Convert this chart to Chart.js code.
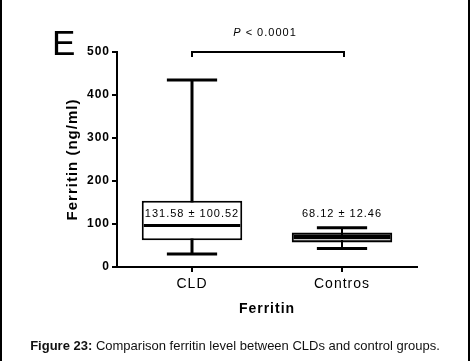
<!DOCTYPE html>
<html lang="en">
<head>
<meta charset="UTF-8">
<title>Ferritin: CLD vs controls</title>
<script src="https://cdn.jsdelivr.net/npm/chart.js"></script>
<style>
  html, body { margin: 0; padding: 0; background: #fff; }
  #wrap { position: relative; width: 473px; height: 361px; }
  #frame { position: absolute; left: 0; top: 0; width: 466px; height: 361px; border-left: 2px solid #000; border-right: 2px solid #000; pointer-events: none; }
  #caption { position: absolute; left: 0; top: 338px; width: 470px; text-align: center; font: 13px "Liberation Sans", Arial, sans-serif; color: #111; }
</style>
</head>
<body>
<div id="wrap">
  <canvas id="ferritinChart"></canvas>
  <div id="frame"></div>
  <div id="caption"><b>Figure 23:</b> Comparison ferritin level between CLDs and control groups.</div>
</div>

<script>
  // values (ng/ml)
  const categories = ['CLD', 'Contros'];
  const minVals = [30, 43];
  const q1Vals = [62, 57];
  const medianVals = [97, 65];
  const q3Vals = [154, 80];
  const maxVals = [435, 91];
  const meanSdLabels = ['131.58 ± 100.52', '68.12 ± 12.46'];
  const yTicks = [0, 100, 200, 300, 400, 500];
  const pValueText = '< 0.0001';

  const FONT = '"Liberation Sans", Arial, sans-serif';
  const boxFills = ['#ffffff', '#000000'];

  const boxPlot = {
    id: 'boxPlot',
    beforeDraw(chart) {
      chart.ctx.letterSpacing = '1px';
    },
    // whiskers go under the boxes
    beforeDatasetsDraw(chart) {
      const { ctx, scales: { x, y } } = chart;
      const meta = chart.getDatasetMeta(0);
      ctx.save();
      ctx.strokeStyle = '#000';
      categories.forEach((c, i) => {
        const cx = x.getPixelForValue(i);
        const half = meta.data[i].width / 4;
        ctx.lineWidth = i === 0 ? 3 : 2;
        ctx.beginPath();
        ctx.moveTo(cx, y.getPixelForValue(maxVals[i]));
        ctx.lineTo(cx, y.getPixelForValue(minVals[i]));
        ctx.stroke();
        ctx.lineWidth = 3;
        [maxVals[i], minVals[i]].forEach(v => {
          const py = y.getPixelForValue(v);
          ctx.beginPath();
          ctx.moveTo(cx - half, py);
          ctx.lineTo(cx + half, py);
          ctx.stroke();
        });
      });
      ctx.restore();
    },
    afterDatasetsDraw(chart) {
      const { ctx, scales: { x, y } } = chart;
      const meta = chart.getDatasetMeta(0);
      ctx.save();
      categories.forEach((c, i) => {
        const cx = x.getPixelForValue(i);
        const half = meta.data[i].width / 2 - 2;
        const py = Math.round(y.getPixelForValue(medianVals[i])) + 0.5;
        ctx.strokeStyle = i === 0 ? '#000' : '#c8c8c8';
        ctx.lineWidth = i === 0 ? 3 : 1;
        ctx.beginPath();
        ctx.moveTo(cx - half, py);
        ctx.lineTo(cx + half, py);
        ctx.stroke();
      });
      ctx.restore();
    },
    afterDraw(chart) {
      const { ctx, scales: { x, y } } = chart;
      ctx.save();
      ctx.fillStyle = '#000';
      ctx.letterSpacing = '1px';

      // mean ± SD labels
      ctx.font = '11px ' + FONT;
      ctx.textAlign = 'center';
      ctx.textBaseline = 'middle';
      meanSdLabels.forEach((t, i) => {
        ctx.fillText(t, x.getPixelForValue(i), y.getPixelForValue(123));
      });

      // significance bracket
      const x0 = x.getPixelForValue(0), x1 = x.getPixelForValue(1) + 2;
      const by = y.getPixelForValue(500);
      ctx.strokeStyle = '#000';
      ctx.lineWidth = 2;
      ctx.beginPath();
      ctx.moveTo(x0, by + 5);
      ctx.lineTo(x0, by);
      ctx.lineTo(x1, by);
      ctx.lineTo(x1, by + 5);
      ctx.stroke();

      ctx.textAlign = 'left';
      ctx.font = '11px ' + FONT;
      const restW = ctx.measureText(' ' + pValueText).width;
      ctx.font = 'italic 11px ' + FONT;
      const pW = ctx.measureText('P').width;
      const startX = (x0 + x1) / 2 - (pW + restW) / 2 - 3;
      ctx.fillText('P', startX, by - 19);
      ctx.font = '11px ' + FONT;
      ctx.fillText(' ' + pValueText, startX + pW, by - 19);

      // panel letter
      ctx.letterSpacing = '0px';
      ctx.font = '35px ' + FONT;
      ctx.textBaseline = 'alphabetic';
      ctx.fillText('E', 52, 55);
      ctx.restore();
    }
  };

  new Chart(document.getElementById('ferritinChart'), {
    type: 'bar',
    data: {
      labels: categories,
      datasets: [{
        data: categories.map((c, i) => [q1Vals[i], q3Vals[i]]),
        backgroundColor: ctx => boxFills[ctx.dataIndex],
        hoverBackgroundColor: ctx => boxFills[ctx.dataIndex],
        borderColor: '#000000',
        borderWidth: 2,
        borderSkipped: false,
        barPercentage: 0.67,
        categoryPercentage: 1
      }]
    },
    options: {
      responsive: true,
      maintainAspectRatio: false,
      animation: false,
      layout: { padding: { left: 60, top: 52, right: 56, bottom: 39 } },
      plugins: {
        legend: { display: false },
        tooltip: { enabled: false }
      },
      scales: {
        x: {
          offset: true,
          grid: { offset: false, drawOnChartArea: false, drawTicks: true, tickLength: 5, color: '#000', lineWidth: 2 },
          border: { color: '#000', width: 2 },
          ticks: { color: '#000', padding: 4, font: { family: FONT, size: 14 } },
          title: { display: true, text: 'Ferritin', color: '#000', font: { family: FONT, size: 14, weight: 'bold' } },
          afterFit(scale) { scale.height = 55; }
        },
        y: {
          min: 0,
          max: 500,
          afterBuildTicks(scale) { scale.ticks = yTicks.map(v => ({ value: v })); },
          grid: { drawOnChartArea: false, drawTicks: true, tickLength: 5, color: '#000', lineWidth: 2 },
          border: { color: '#000', width: 2 },
          ticks: { color: '#000', padding: 2, font: { family: FONT, size: 12, weight: 'bold' } },
          title: { display: true, text: 'Ferritin (ng/ml)', color: '#000', font: { family: FONT, size: 15, weight: 'bold' } },
          afterFit(scale) { scale.width = 57; }
        }
      }
    },
    plugins: [boxPlot]
  });
</script>
</body>
</html>
